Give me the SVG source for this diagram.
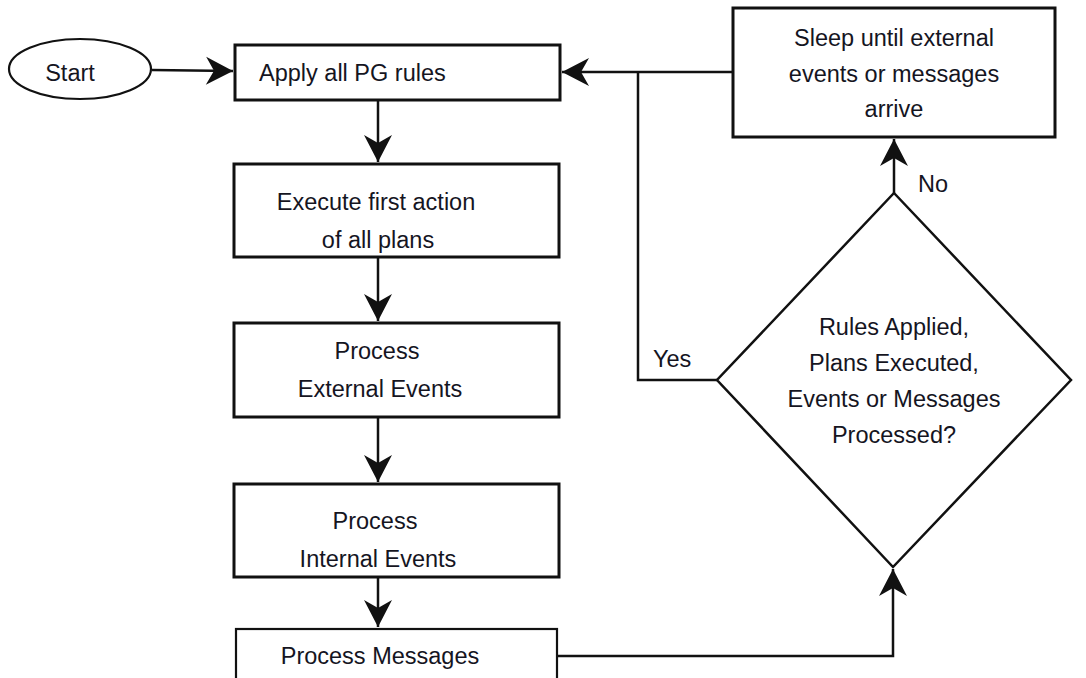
<svg xmlns="http://www.w3.org/2000/svg" width="1086" height="678" viewBox="0 0 1086 678">
<style>
  .box { fill: #fff; stroke: #111; stroke-width: 3; }
  .thin { fill: #fff; stroke: #111; stroke-width: 2.2; }
  .t { font-family: "Liberation Sans", Arial, sans-serif; font-size: 23.5px; fill: #15151f; }
  .c { text-anchor: middle; }
  .edge { fill: none; stroke: #111; stroke-width: 2.5; }
</style>
<defs>
  <marker id="ah" markerUnits="userSpaceOnUse" markerWidth="40" markerHeight="40" viewBox="-30 -20 34 40" refX="0" refY="0" orient="auto">
    <path d="M 0 0 L -27 -14 L -19 0 L -27 14 Z" fill="#111"/>
  </marker>
</defs>
<rect width="1086" height="678" fill="#fff"/>

<g id="connectors">
  <path class="edge" d="M 152 70 L 233 71" marker-end="url(#ah)"/>
  <path class="edge" d="M 378 100 L 378 162" marker-end="url(#ah)"/>
  <path class="edge" d="M 378 257 L 378 321" marker-end="url(#ah)"/>
  <path class="edge" d="M 378 417 L 378 482" marker-end="url(#ah)"/>
  <path class="edge" d="M 378 577 L 378 627" marker-end="url(#ah)"/>
  <path class="edge" d="M 733 72 L 562 72" marker-end="url(#ah)"/>
  <path class="edge" d="M 717 380 L 638 380 L 638 72"/>
  <path class="edge" d="M 894 193 L 894 139" marker-end="url(#ah)"/>
  <path class="edge" d="M 557 656 L 893 656 L 893 569" marker-end="url(#ah)"/>
  <text class="t" x="918" y="192">No</text>
  <text class="t" x="653" y="367">Yes</text>
</g>

<g id="start">
  <ellipse cx="80" cy="69" rx="71" ry="30" class="thin"/>
  <text class="t" x="70" y="81" text-anchor="middle">Start</text>
</g>

<g id="apply">
  <rect class="box" x="235" y="45" width="325" height="55"/>
  <text class="t" x="259" y="81">Apply all PG rules</text>
</g>

<g id="execute">
  <rect class="box" x="234" y="164" width="325" height="93"/>
  <text class="t c" x="376" y="210">Execute first action</text>
  <text class="t c" x="378" y="248">of all plans</text>
</g>

<g id="external">
  <rect class="box" x="234" y="323" width="325" height="94"/>
  <text class="t c" x="377" y="359">Process</text>
  <text class="t c" x="380" y="397">External Events</text>
</g>

<g id="internal">
  <rect class="box" x="234" y="484" width="325" height="93"/>
  <text class="t c" x="375" y="529">Process</text>
  <text class="t c" x="378" y="567">Internal Events</text>
</g>

<g id="messages">
  <rect class="thin" x="236" y="629" width="321" height="60"/>
  <text class="t c" x="380" y="664">Process Messages</text>
</g>

<g id="sleep">
  <rect class="box" x="733" y="8" width="322" height="129"/>
  <text class="t c" x="894" y="46">Sleep until external</text>
  <text class="t c" x="894" y="82">events or messages</text>
  <text class="t c" x="894" y="117">arrive</text>
</g>

<g id="decision">
  <polygon class="thin" points="894,193 1071,380 893,567 717,380" style="stroke-width:2.5"/>
  <text class="t c" x="894" y="335">Rules Applied,</text>
  <text class="t c" x="894" y="371">Plans Executed,</text>
  <text class="t c" x="894" y="407">Events or Messages</text>
  <text class="t c" x="894" y="443">Processed?</text>
</g>
</svg>
